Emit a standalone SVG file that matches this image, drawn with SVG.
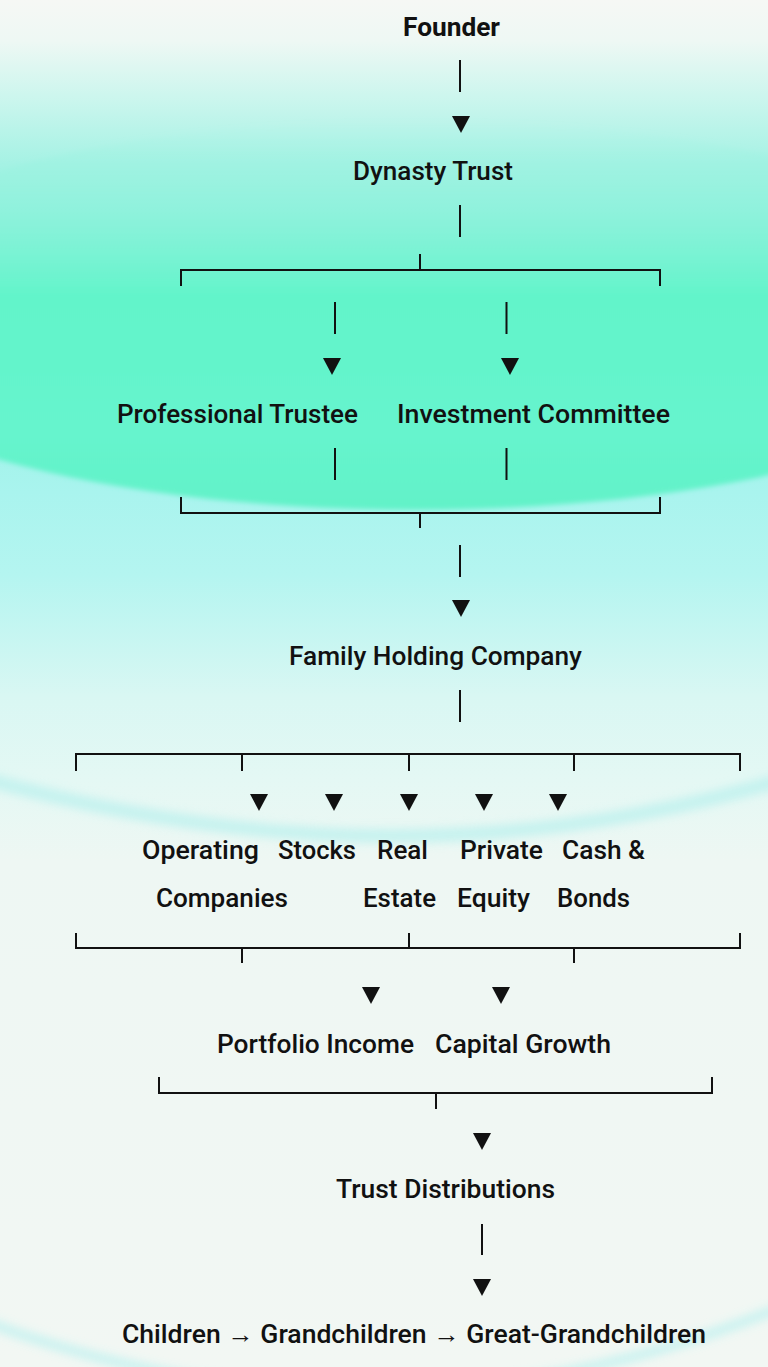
<svg xmlns="http://www.w3.org/2000/svg" width="768" height="1367" viewBox="0 0 768 1367">
<defs>
<linearGradient id="bg" x1="0" y1="0" x2="0" y2="1367" gradientUnits="userSpaceOnUse">
<stop offset="0" stop-color="#f6f8f5"/>
<stop offset="0.03" stop-color="#eef8f4"/>
<stop offset="0.07" stop-color="#cdf6ee"/>
<stop offset="0.12" stop-color="#a5f2e4"/>
<stop offset="0.2" stop-color="#8cf1dc"/>
<stop offset="0.36" stop-color="#a9f4ee"/>
<stop offset="0.42" stop-color="#b4f5f0"/>
<stop offset="0.51" stop-color="#d9f7f3"/>
<stop offset="0.57" stop-color="#e4f8f4"/>
<stop offset="0.63" stop-color="#eef7f3"/>
<stop offset="1" stop-color="#f2f7f3"/>
</linearGradient>
<linearGradient id="blob" x1="0" y1="120" x2="0" y2="510" gradientUnits="userSpaceOnUse">
<stop offset="0" stop-color="#9ff2e2" stop-opacity="0"/>
<stop offset="0.22" stop-color="#8af2da" stop-opacity="0.6"/>
<stop offset="0.45" stop-color="#62f4ca"/>
<stop offset="0.8" stop-color="#66f4cd"/>
<stop offset="1" stop-color="#62f2c8"/>
</linearGradient>
<filter id="soft" x="-10%" y="-10%" width="120%" height="120%"><feGaussianBlur stdDeviation="2.5"/></filter>
<filter id="glow" x="-10%" y="-50%" width="120%" height="200%"><feGaussianBlur stdDeviation="5"/></filter>
<path id="tri" d="M-9 0 H9 L0 17 Z"/>
</defs>
<style>
text{font-family:Roboto,"Noto Sans","Liberation Sans",sans-serif;font-size:25px;font-weight:500;fill:#111}
.b{font-weight:700}
.ln{stroke:#111;stroke-width:2;fill:none}
.ar{fill:#111}
</style>
<g id="background">
<rect width="768" height="1367" fill="url(#bg)"/>
<path d="M-40 772 Q400 900 808 772" fill="none" stroke="#bdf1ee" stroke-width="14" filter="url(#glow)" opacity="0.8"/>
<path d="M-40 1312 Q384 1480 808 1296" fill="none" stroke="#c6f2f0" stroke-width="10" filter="url(#glow)" opacity="0.9"/>
<ellipse cx="415" cy="315" rx="620" ry="195" fill="url(#blob)" filter="url(#soft)"/>
</g>
<g id="connectors">
<path class="ln" d="M460 60V92M460 205V237M181 286V270H660V286M420 254V270M335 302V334M506.5 302V334M335 448V480M506.5 448V480M181 497V513H660V497M420 513V528M460 545V577M460 690V722M76 771V754H740V771M242 754V771M409 754V771M574 754V771M76 933V948H740V933M409 933V948M242 948V963M574 948V963M159 1077V1093H712V1077M436 1093V1109M482 1224V1255"/>
<use href="#tri" class="ar" x="461" y="116"/>
<use href="#tri" class="ar" x="332" y="358"/>
<use href="#tri" class="ar" x="510" y="358"/>
<use href="#tri" class="ar" x="461" y="600"/>
<use href="#tri" class="ar" x="259" y="794"/>
<use href="#tri" class="ar" x="334" y="794"/>
<use href="#tri" class="ar" x="409" y="794"/>
<use href="#tri" class="ar" x="484" y="794"/>
<use href="#tri" class="ar" x="558" y="794"/>
<use href="#tri" class="ar" x="371" y="987"/>
<use href="#tri" class="ar" x="501" y="987"/>
<use href="#tri" class="ar" x="482" y="1133"/>
<use href="#tri" class="ar" x="482" y="1279"/>
</g>
<g id="founder"><text class="b" x="403" y="36" textLength="97" lengthAdjust="spacingAndGlyphs">Founder</text></g>
<g id="dynasty-trust"><text x="353" y="180" textLength="160" lengthAdjust="spacingAndGlyphs">Dynasty Trust</text></g>
<g id="professional-trustee"><text x="117" y="423" textLength="241" lengthAdjust="spacingAndGlyphs">Professional Trustee</text></g>
<g id="investment-committee"><text x="397" y="423" textLength="273" lengthAdjust="spacingAndGlyphs">Investment Committee</text></g>
<g id="family-holding-company"><text x="289" y="665" textLength="293" lengthAdjust="spacingAndGlyphs">Family Holding Company</text></g>
<g id="operating-companies"><text x="142" y="859" textLength="117" lengthAdjust="spacingAndGlyphs">Operating</text><text x="156" y="907" textLength="132" lengthAdjust="spacingAndGlyphs">Companies</text></g>
<g id="stocks"><text x="278" y="859" textLength="78" lengthAdjust="spacingAndGlyphs">Stocks</text></g>
<g id="real-estate"><text x="377" y="859" textLength="51" lengthAdjust="spacingAndGlyphs">Real</text><text x="363" y="907" textLength="73" lengthAdjust="spacingAndGlyphs">Estate</text></g>
<g id="private-equity"><text x="460" y="859" textLength="83" lengthAdjust="spacingAndGlyphs">Private</text><text x="457" y="907" textLength="73" lengthAdjust="spacingAndGlyphs">Equity</text></g>
<g id="cash-bonds"><text x="562" y="859" textLength="83" lengthAdjust="spacingAndGlyphs">Cash &amp;</text><text x="557" y="907" textLength="73" lengthAdjust="spacingAndGlyphs">Bonds</text></g>
<g id="portfolio-income"><text x="217" y="1053" textLength="197" lengthAdjust="spacingAndGlyphs">Portfolio Income</text></g>
<g id="capital-growth"><text x="435" y="1053" textLength="176" lengthAdjust="spacingAndGlyphs">Capital Growth</text></g>
<g id="trust-distributions"><text x="336" y="1198" textLength="219" lengthAdjust="spacingAndGlyphs">Trust Distributions</text></g>
<g id="beneficiaries"><text x="122" y="1343" textLength="584" lengthAdjust="spacingAndGlyphs">Children → Grandchildren → Great-Grandchildren</text></g>
</svg>
